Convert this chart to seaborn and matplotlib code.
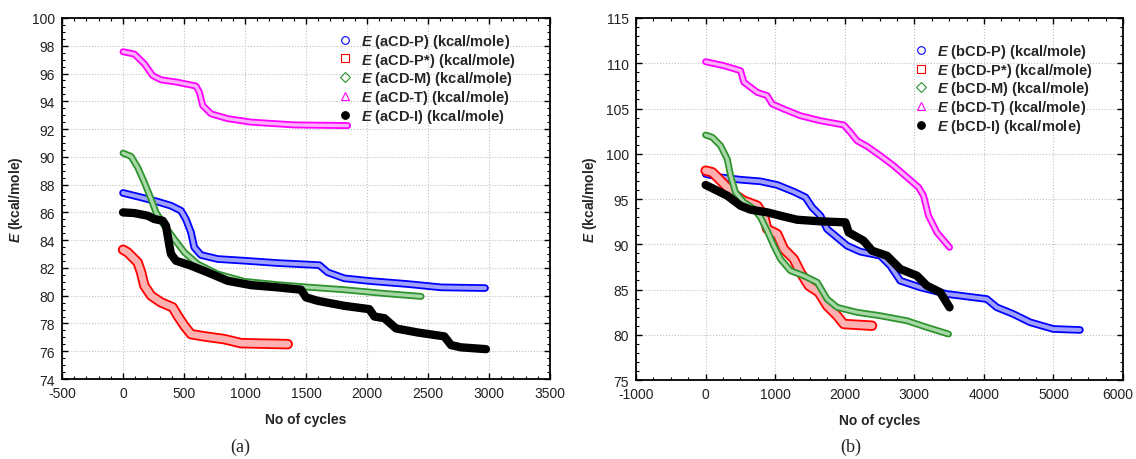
import matplotlib
matplotlib.use('Agg')
import matplotlib.pyplot as plt
import matplotlib.patheffects as pe
import matplotlib.transforms as mtransforms
from matplotlib.lines import Line2D
from matplotlib.ticker import MultipleLocator
import seaborn as sns

# ---- panel (a) data ----
a_p_x = [0, 148, 284, 393, 475, 516, 557, 584, 639, 776, 994, 1268, 1609, 1678, 1814, 2033, 2333, 2607, 2967]
a_p_y = [87.4, 87.08, 86.77, 86.48, 86.12, 85.5, 84.56, 83.48, 82.93, 82.64, 82.52, 82.35, 82.2, 81.68, 81.25, 81.05, 80.84, 80.6, 80.55]

a_ps_x = [0, 38, 79, 120, 148, 175, 230, 311, 407, 448, 503, 557, 666, 830, 967, 1350]
a_ps_y = [83.31, 83.12, 82.76, 82.4, 81.68, 80.72, 80.0, 79.52, 79.16, 78.55, 77.83, 77.23, 77.07, 76.87, 76.58, 76.51]

a_m_x = [0, 66, 120, 175, 230, 270, 339, 420, 503, 612, 776, 994, 1268, 1541, 1814, 2142, 2443]
a_m_y = [90.27, 90.03, 89.24, 88.16, 86.96, 86.0, 85.04, 84.08, 83.12, 82.28, 81.56, 81.03, 80.79, 80.6, 80.43, 80.16, 79.95]

a_t_x = [0, 93, 175, 243, 311, 448, 598, 626, 653, 721, 858, 1049, 1404, 1841]
a_t_y = [97.57, 97.4, 96.7, 95.85, 95.55, 95.37, 95.1, 94.65, 93.7, 93.1, 92.75, 92.5, 92.3, 92.25]

a_i_x = [0, 93, 202, 257, 325, 352, 366, 380, 393, 434, 557, 694, 858, 1049, 1268, 1459, 1500, 1596,
         1814, 2019, 2060, 2142, 2238, 2415, 2633, 2689, 2770, 2975]
a_i_y = [86.0, 85.95, 85.76, 85.52, 85.4, 85.04, 84.32, 83.6, 83.0, 82.52, 82.16, 81.68, 81.07, 80.76, 80.6, 80.43, 79.88, 79.63,
         79.27, 79.03, 78.5, 78.38, 77.64, 77.35, 77.07, 76.44, 76.28, 76.15]

# ---- panel (b) data ----
b_p_x = [0, 215, 502, 789, 1029, 1267, 1435, 1531, 1650, 1746, 1890, 2033, 2224, 2511, 2654, 2798, 3085, 3468,
         3659, 4041, 4185, 4423, 4663, 4997, 5380]
b_p_y = [97.76, 97.4, 97.13, 96.95, 96.55, 95.81, 95.19, 94.08, 93.15, 91.68, 90.76, 89.84, 89.18, 88.73, 87.63, 85.97, 85.24, 84.5,
         84.32, 83.95, 83.03, 82.29, 81.38, 80.64, 80.53]

b_ps_x = [0, 96, 168, 263, 406, 550, 741, 837, 885, 1029, 1124, 1267, 1363, 1483, 1626, 1746, 1890, 1985, 2392]
b_ps_y = [98.13, 97.95, 97.4, 96.66, 95.55, 94.81, 94.26, 93.15, 91.68, 91.13, 89.47, 88.37, 86.9, 85.42, 84.69, 83.21, 82.1, 81.19, 81.0]

b_m_x = [0, 96, 215, 311, 359, 430, 550, 693, 789, 885, 980, 1076, 1219, 1411, 1603, 1746, 1890, 2176, 2511, 2894, 3181, 3491]
b_m_y = [102.07, 101.82, 100.89, 99.42, 97.58, 95.74, 94.64, 93.9, 92.98, 91.5, 89.84, 88.37, 87.08, 86.52, 85.8, 83.95, 83.03,
         82.48, 82.1, 81.55, 80.82, 80.08]

b_t_x = [0, 263, 502, 550, 741, 885, 956, 1124, 1363, 1650, 1985, 2080, 2176, 2320, 2511, 2702, 2894, 3061, 3132, 3204, 3324, 3506]
b_t_y = [110.17, 109.73, 109.18, 107.9, 106.79, 106.42, 105.5, 104.94, 104.2, 103.65, 103.18, 102.37, 101.44, 100.82, 99.79,
         98.68, 97.4, 96.29, 95.37, 93.15, 91.31, 89.66]

b_i_x = [0, 120, 311, 502, 646, 885, 1076, 1316, 1650, 2009, 2056, 2271, 2392, 2607, 2798, 3037, 3181, 3372, 3506]
b_i_y = [96.55, 96.1, 95.37, 94.26, 93.82, 93.53, 93.15, 92.71, 92.53, 92.42, 91.31, 90.39, 89.29, 88.73, 87.26, 86.53,
         85.42, 84.69, 83.03]

names = ['P', 'P*', 'M', 'T', 'I']
colors = ['#0000ff', '#ff0000', '#2f932f', '#ff00ff', '#000000']
tints = ['#a0a0ff', '#ffb0b0', '#a8d8a8', '#ffb0ff', '#000000']
widths = [5.5, 7.5, 5, 5, 6]
markers = ['o', 's', 'D', '^', 'o']

sns.set_style('ticks')
plt.rcParams['font.family'] = ['Liberation Sans', 'DejaVu Sans']
plt.rcParams['mathtext.fontset'] = 'custom'
plt.rcParams['mathtext.bfit'] = 'Liberation Sans:italic:bold'
plt.rcParams['mathtext.rm'] = 'Liberation Sans'
plt.rcParams['axes.unicode_minus'] = False

fig = plt.figure(figsize=(11.36, 4.6), dpi=100)
ax_a = fig.add_axes([0.0546, 0.1739, 0.4296, 0.7848])
ax_b = fig.add_axes([0.5599, 0.1717, 0.4287, 0.7870])


def draw_panel(ax, series, prefix):
    for (x, y), c, t, w in zip(series, colors, tints, widths):
        if c == '#000000':
            sns.lineplot(x=x, y=y, ax=ax, color=c, lw=w, sort=False,
                         solid_capstyle='round', solid_joinstyle='round')
        else:
            sns.lineplot(x=x, y=y, ax=ax, color=t, lw=w - 2.6, sort=False,
                         solid_capstyle='round', solid_joinstyle='round',
                         path_effects=[pe.Stroke(linewidth=w, foreground=c), pe.Normal()])
    handles = []
    for n, c, m in zip(names, colors, markers):
        filled = c == '#000000'
        handles.append(Line2D([], [], ls='none', marker=m, markersize=5.5 if m != 'D' else 5,
                              markeredgecolor=c, markerfacecolor=c if filled else 'none',
                              markeredgewidth=0.8,
                              label=r'$\mathbfit{E}$ (' + prefix + 'CD-' + n + ') (kcal/mole)'))
    return handles


h_a = draw_panel(ax_a, [(a_p_x, a_p_y), (a_ps_x, a_ps_y), (a_m_x, a_m_y), (a_t_x, a_t_y), (a_i_x, a_i_y)], 'a')
h_b = draw_panel(ax_b, [(b_p_x, b_p_y), (b_ps_x, b_ps_y), (b_m_x, b_m_y), (b_t_x, b_t_y), (b_i_x, b_i_y)], 'b')

ax_a.set_xlim(-500, 3500)
ax_a.set_ylim(74, 100)
ax_a.xaxis.set_major_locator(MultipleLocator(500))
ax_a.xaxis.set_minor_locator(MultipleLocator(100))
ax_a.yaxis.set_major_locator(MultipleLocator(2))
ax_a.yaxis.set_minor_locator(MultipleLocator(0.5))

ax_b.set_xlim(-1000, 6000)
ax_b.set_ylim(75, 115)
ax_b.xaxis.set_major_locator(MultipleLocator(1000))
ax_b.xaxis.set_minor_locator(MultipleLocator(250))
ax_b.yaxis.set_major_locator(MultipleLocator(5))
ax_b.yaxis.set_minor_locator(MultipleLocator(1))

for ax, h, anchor in [(ax_a, h_a, (0.545, 0.99)), (ax_b, h_b, (0.55, 0.962))]:
    ax.grid(True, which='major', ls=':', lw=0.8, color='#c0c0c0')
    ax.set_axisbelow(True)
    for s in ax.spines.values():
        s.set_linewidth(1.3)
        s.set_color('black')
    ax.tick_params(which='both', direction='in', top=True, right=True, colors='black',
                   labelcolor='#222222', labelsize=10)
    ax.tick_params(which='major', length=4, width=1)
    ax.tick_params(axis='x', which='major', pad=5)
    ax.tick_params(axis='y', which='major', pad=5)
    ax.tick_params(which='minor', length=2.5, width=0.8)
    ax.set_xlabel('No of cycles', fontsize=10, fontweight='bold', labelpad=9)
    ax.set_ylabel(r'$\mathbfit{E}$ (kcal/mole)', fontsize=10, fontweight='bold', labelpad=5)
    ax.legend(handles=h, loc='upper left', bbox_to_anchor=anchor, frameon=False,
              prop={'weight': 'bold', 'size': 10.5}, handlelength=1.0, handletextpad=0.55,
              labelspacing=0.05, borderaxespad=0.3)

fig.text(240 / 1136, 1 - 447 / 460, '(a)', family='Liberation Serif', fontsize=13, ha='center', va='center')
fig.text(851 / 1136, 1 - 447 / 460, '(b)', family='Liberation Serif', fontsize=13, ha='center', va='center')

# the right-most tick label of panel (b) sits at the figure edge: nudge it left
fig.canvas.draw()
shift = mtransforms.ScaledTranslation(-5 / 100, 0, fig.dpi_scale_trans)
for tick in ax_b.xaxis.get_major_ticks():
    if abs(tick.get_loc() - 6000) < 1:
        tick.label1.set_transform(tick.label1.get_transform() + shift)

fig.savefig('out.png', dpi=100)
